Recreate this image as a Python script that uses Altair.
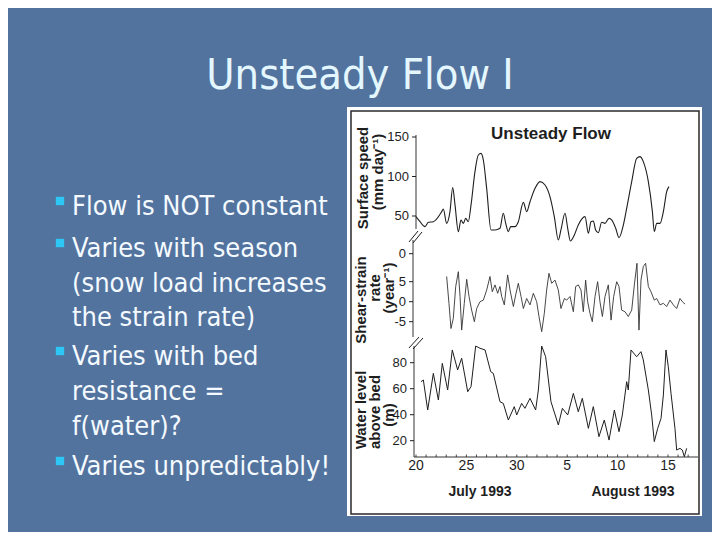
import altair as alt
import pandas as pd

# ---------------- data ----------------
# day index counted from 20 July 1993
top_day = [0.0, 0.40, 0.89, 1.22, 1.72, 2.55, 2.71, 3.04, 3.37, 3.64, 3.87, 4.20, 4.46, 4.70, 4.93,
           5.19, 5.46, 5.85, 6.18, 6.45, 6.68, 7.01, 7.44, 7.84, 8.33, 8.66, 8.90, 9.16, 9.39, 9.82,
           10.15, 10.65, 10.98, 11.31, 11.81, 12.30, 12.80, 13.29, 13.72, 14.12, 14.38, 14.78, 15.05,
           15.31, 15.71, 16.10, 16.77, 17.10, 17.36, 17.59, 17.82, 18.09, 18.42, 18.75, 19.15, 19.41,
           19.81, 20.14, 20.57, 20.90, 21.40, 21.89, 22.22, 22.55, 23.05, 23.45, 23.64, 23.88, 24.21,
           24.54, 24.87, 25.10]
top_speed = [49.2, 42.8, 36.5, 42, 42.8, 55.5, 58.9, 40.7, 55.5, 85.9, 64, 30.2, 45, 40.7, 47,
             42.8, 64, 106.1, 127.2, 129.3, 120.9, 85, 32.3, 32.3, 34.4, 53.4, 40.7, 30.2, 36.5, 36.5,
             42.8, 67.3, 55.5, 68.1, 85, 93.5, 89.2, 74.5, 49.2, 19.6, 32.3, 53.4, 34.4,
             18.4, 26, 38.6, 49.2, 28.1, 42.8, 43.7, 32.3, 28.9, 42, 40.7, 47, 45,
             34.4, 22.6, 38.6, 59.7, 93.5, 123, 125.1, 118.8, 93.5, 55.5, 30.2, 40.7, 40.7,
             55.5, 80.8, 87.1]

mid_day = [3.04, 3.27, 3.47, 3.70, 3.94, 4.20, 4.37, 4.53, 4.79, 5.03, 5.26, 5.52, 5.79, 6.02, 6.35,
           6.68, 7.01, 7.34, 7.57, 7.84, 8.10, 8.33, 8.50, 8.76, 9.09, 9.33, 9.66, 9.89, 10.15, 10.42,
           10.65, 10.98, 11.31, 11.64, 11.97, 12.20, 12.47, 12.73, 12.96, 13.19, 13.46, 13.79, 14.12,
           14.38, 14.72, 14.95, 15.28, 15.61, 15.84, 16.10, 16.37, 16.60, 16.83, 17.03, 17.26, 17.49,
           17.76, 18.02, 18.25, 18.49, 18.75, 19.08, 19.35, 19.61, 19.91, 20.14, 20.40, 20.73, 21.06,
           21.40, 21.66, 21.92, 22.12, 22.32, 22.55, 22.78, 23.05, 23.31, 23.64, 23.88, 24.21, 24.54,
           24.87, 25.20, 25.53, 25.86, 26.19, 26.42, 26.69]
mid_strain = [6.3, -0.4, -6.7, -4.2, 3.8, 7.5, 1.3, -7.1, -0.4, 5.6, 1.3, -2.1, -5.0, -1.7, 0.0,
              0.4, 2.9, 6.3, 2.5, 4.2, 2.1, 3.8, 1.3, -0.8, 6.7, 2.9, -1.2, 1.7, 4.6, 1.3,
              -1.7, 0.8, -0.8, 2.1, 0.0, -3.7, -7.5, -2.9, 2.9, 7.1, 4.6, 5.4, 2.9,
              -1.7, 0.8, 0.4, 1.3, -2.5, 3.8, 4.2, 2.9, -2.5, 5.4, 0.0, -2.9, -5.0,
              1.3, 5.0, 0.0, -3.7, 1.3, 4.2, -4.6, 1.3, 5.0, 3.8, -2.1, -2.5, -3.7,
              -2.1, 4.2, 9.6, -7.1, 5.4, 8.8, 9.6, 3.8, 2.5, 0.4, 0.8, -0.8, -0.4,
              -1.2, 0.4, -0.8, -1.7, 0.8, 0.0, -0.6]

bot_day = [0.50, 0.73, 1.16, 1.72, 2.22, 2.61, 3.14, 3.60, 4.13, 4.53, 5.13, 5.46, 5.92, 6.35, 6.85,
           7.41, 7.67, 8.33, 8.66, 9.16, 9.75, 9.99, 10.48, 10.81, 11.31, 11.87, 12.14, 12.47, 12.86,
           13.39, 14.12, 14.52, 15.05, 15.61, 16.10, 16.50, 17.10, 17.59, 18.15, 18.68, 19.15, 19.68,
           20.14, 20.47, 20.90, 21.06, 21.33, 21.89, 22.32, 22.55, 23.05, 23.38, 23.64, 23.98, 24.31,
           24.54, 24.80, 25.03, 25.30, 25.69, 25.86, 26.19, 26.42, 26.62, 26.85]
bot_level = [65.4, 66.7, 43.6, 71.8, 51.3, 79.5, 59, 89.8, 74.4, 83.4, 57.7, 61.6, 92.8, 91.1, 89.8,
             73.1, 71.8, 50, 48.7, 35.9, 46.2, 39.8, 48.7, 44.9, 52.6, 43.6, 59, 92.8, 84.6,
             50, 32.1, 44.9, 39.8, 56.4, 42.3, 52.6, 29.5, 46.2, 23.1, 35.9, 20.5, 43.6,
             26.9, 39.8, 65.4, 59, 89.8, 84.6, 88.5, 82.1, 59, 39.8, 19.3, 29.5, 37.2,
             55.2, 89.8, 76.9, 56.4, 29.5, 12.8, 14.1, 12.8, 7.7, 14.1]

top_ticks = [50, 100, 150]
top_labels = ["50", "100", "150"]
mid_ticks = [12, 5, 0, -5]
mid_labels = ["0", "5", "0", "-5"]
bot_ticks = [80, 60, 40, 20]
bot_labels = ["80", "60", "40", "20"]
x_ticks = [0, 5, 10, 15, 20, 25]
x_labels = ["20", "25", "30", "5", "10", "15"]
x_minor = list(range(0, 28))

title = "Unsteady Flow I"
bullets = [["Flow is NOT constant"],
           ["Varies with season", "(snow load increases", "the strain rate)"],
           ["Varies with bed", "resistance =", "f(water)?"],
           ["Varies unpredictably!"]]

# ---------------- styling ----------------
BG = "#52739E"
INK = "#1e1e1e"
SLIDE_FONT = "DejaVu Sans Condensed, DejaVu Sans"
NARROW = "Liberation Sans Narrow, Liberation Sans"
BOLD = "Liberation Sans, Arial"

xs = alt.Scale(domain=[0, 25], range=[408, 660], nice=False, zero=False)
ys_top = alt.Scale(domain=[0, 150], range=[247.5, 129], nice=False, zero=False)
ys_mid = alt.Scale(domain=[0, 5], range=[293.7, 273.7], nice=False, zero=False)
ys_bot = alt.Scale(domain=[0, 80], range=[458.7, 354.7], nice=False, zero=False)

one = alt.Data(values=[{}])


def txt(s, x, y, **kw):
    return alt.Chart(one).mark_text(text=s, **kw).encode(x=alt.value(x), y=alt.value(y))


def seg(x1, y1, x2, y2, color=INK, w=1.0):
    return alt.Chart(one).mark_rule(color=color, strokeWidth=w).encode(
        x=alt.value(x1), y=alt.value(y1), x2=alt.value(x2), y2=alt.value(y2))


layers = []

# figure frame
layers.append(alt.Chart(one).mark_rect(fill="#FFFFFF").encode(
    x=alt.value(339), x2=alt.value(694), y=alt.value(99), y2=alt.value(508)))
layers.append(alt.Chart(one).mark_rect(fill="#FFFFFF", fillOpacity=0, stroke="#2a2a2a", strokeWidth=1.5).encode(
    x=alt.value(343), x2=alt.value(691), y=alt.value(103), y2=alt.value(506)))

# slide title
layers.append(txt(title, 352, 90, font=SLIDE_FONT, fontSize=43, color="#E4F7FF", align="center",
                  baseline="bottom"))

# bullets
line_y = [[199], [241, 276, 310], [349, 384, 419], [459]]
for group, ys in zip(bullets, line_y):
    layers.append(alt.Chart(one).mark_square(size=70, color="#2EC6F4", opacity=1).encode(
        x=alt.value(52), y=alt.value(ys[0] - 6)))
    for s, yy in zip(group, ys):
        layers.append(txt(s, 64, yy, font=SLIDE_FONT, fontSize=27, color="#F4FAFF", align="left"))

# figure title
layers.append(txt("Unsteady Flow", 543, 126, font=NARROW, fontSize=17, fontWeight="bold", color=INK,
                  align="center"))

# axis lines and break marks
layers += [
    seg(408, 127, 408, 221, w=0.9),
    seg(405, 232, 405, 329, w=0.9),
    seg(406, 338, 406, 449, w=0.9),
    seg(406, 449, 690, 449, w=0.9),
    seg(401, 234, 410, 223), seg(405, 235, 414, 224),
    seg(401, 340, 411, 329), seg(405, 341, 415, 330),
]

# y-axis titles
rot = dict(angle=270, align="center", baseline="middle", font=BOLD, fontSize=15, fontWeight="bold", color=INK)
layers += [
    txt("Surface speed", 355, 170, **rot),
    txt("(mm day\u207b\u00b9)", 370, 164, **rot),
    txt("Shear-strain", 353, 292, **rot),
    txt("rate", 367, 280, **rot),
    txt("(year\u207b\u00b9)", 381, 280, **rot),
    txt("Water level", 353, 402, **rot),
    txt("above bed", 367, 404, **rot),
    txt("(m)", 381, 407, **rot),
]

# ticks and tick labels through the panel scales
def yticks(vals, labels, scale, xtick):
    d = pd.DataFrame({"v": vals, "label": labels})
    t = alt.Chart(d).mark_rule(color=INK, strokeWidth=1).encode(
        x=alt.value(xtick - 4), x2=alt.value(xtick), y=alt.Y("v:Q", scale=scale, axis=None))
    l = alt.Chart(d).mark_text(align="right", baseline="middle", font=NARROW, fontSize=13, color=INK).encode(
        x=alt.value(xtick - 7), y=alt.Y("v:Q", scale=scale, axis=None), text="label:N")
    return [t, l]

layers += yticks(top_ticks, top_labels, ys_top, 408)
layers += yticks(mid_ticks, mid_labels, ys_mid, 405)
layers += yticks(bot_ticks, bot_labels, ys_bot, 406)

xd = pd.DataFrame({"day": x_ticks, "label": x_labels})
layers.append(alt.Chart(xd).mark_text(baseline="middle", font=NARROW, fontSize=14, color=INK).encode(
    x=alt.X("day:Q", scale=xs, axis=None), y=alt.value(458), text="label:N"))
md = pd.DataFrame({"day": x_minor})
layers.append(alt.Chart(md).mark_rule(color=INK, strokeWidth=0.8).encode(
    x=alt.X("day:Q", scale=xs, axis=None), y=alt.value(446.5), y2=alt.value(449)))

layers.append(txt("July 1993", 472, 484, font=NARROW, fontSize=14, fontWeight="bold", color=INK,
                  align="center", baseline="middle"))
layers.append(txt("August 1993", 625, 484, font=NARROW, fontSize=14, fontWeight="bold", color=INK,
                  align="center", baseline="middle"))

# data traces
top_df = pd.DataFrame({"day": top_day, "speed": top_speed})
mid_df = pd.DataFrame({"day": mid_day, "strain": mid_strain})
bot_df = pd.DataFrame({"day": bot_day, "level": bot_level})

layers.append(alt.Chart(top_df).mark_line(interpolate="monotone", color=INK, strokeWidth=1.1).encode(
    x=alt.X("day:Q", scale=xs, axis=None), y=alt.Y("speed:Q", scale=ys_top, axis=None)))
layers.append(alt.Chart(mid_df).mark_line(color="#333333", strokeWidth=0.9).encode(
    x=alt.X("day:Q", scale=xs, axis=None), y=alt.Y("strain:Q", scale=ys_mid, axis=None)))
layers.append(alt.Chart(bot_df).mark_line(color=INK, strokeWidth=1.0).encode(
    x=alt.X("day:Q", scale=xs, axis=None), y=alt.Y("level:Q", scale=ys_bot, axis=None)))

chart = alt.layer(*layers).resolve_scale(x="independent", y="independent").properties(
    width=704, height=524, autosize=alt.AutoSizeParams(type="none"), padding=0, background=BG
).configure_view(stroke=None)

chart.save("out.html", embed_options={"renderer": "svg", "actions": False})
